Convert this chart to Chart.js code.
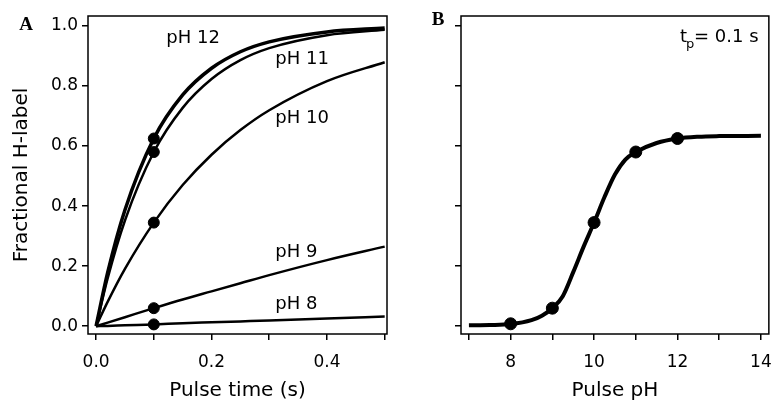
<!DOCTYPE html>
<html>
<head>
    <title>Fractional H-label</title>
    <script src="https://cdn.jsdelivr.net/npm/chart.js"></script>
    <style>
        body { margin: 0; background: #fff; overflow: hidden; }
        .wrap { position: relative; width: 771px; height: 403px; overflow: hidden; }
        #chartA { position: absolute; left: 0; top: 0; }
        #chartB { position: absolute; left: 400px; top: 0; }
    </style>
</head>
<body>
    <div class="wrap">
        <canvas id="chartA" width="400" height="403"></canvas>
        <canvas id="chartB" width="384" height="403"></canvas>
    </div>

    <script>
        // panel A: labelling vs pulse time
        const pulseTime = [0, 0.02, 0.05, 0.1, 0.15, 0.2, 0.25, 0.3, 0.4, 0.5];
        const ph12 = [0, 0.178, 0.387, 0.625, 0.77, 0.859, 0.914, 0.947, 0.98, 0.993];
        const ph11 = [0, 0.159, 0.352, 0.58, 0.727, 0.823, 0.886, 0.926, 0.969, 0.987];
        const ph10 = [0, 0.081, 0.191, 0.345, 0.47, 0.571, 0.653, 0.719, 0.816, 0.879];
        const ph9 = [0, 0.012, 0.03, 0.06, 0.089, 0.116, 0.143, 0.17, 0.22, 0.265];
        const ph8 = [0, 0.001, 0.003, 0.006, 0.01, 0.013, 0.016, 0.019, 0.026, 0.032];
        const dotTime = [0.1, 0.1, 0.1, 0.1, 0.1];
        const dotLabel = [0.625, 0.58, 0.345, 0.06, 0.006];
        const curveNames = ['pH 12', 'pH 11', 'pH 10', 'pH 9', 'pH 8'];
        const nameX = [0.168, 0.357, 0.357, 0.347, 0.347];
        const nameY = [0.957, 0.89, 0.692, 0.245, 0.073];
        const xTicksA = [0, 0.1, 0.2, 0.3, 0.4, 0.5];
        const yTicks = [0, 0.2, 0.4, 0.6, 0.8, 1.0];

        // panel B: labelling vs pulse pH at tp = 0.1 s
        const pulsePH = [7, 7.5, 8, 8.5, 8.75, 9, 9.25, 9.5, 9.75, 10, 10.25, 10.5, 10.75, 11, 11.5, 12, 12.5, 13, 14];
        const labelB = [0.003, 0.004, 0.007, 0.02, 0.035, 0.06, 0.1, 0.18, 0.265, 0.345, 0.43, 0.505, 0.555, 0.58, 0.61, 0.625, 0.631, 0.633, 0.634];
        const dotPH = [8, 9, 10, 11, 12];
        const dotB = [0.008, 0.06, 0.345, 0.58, 0.625];
        const xTicksB = [7, 8, 9, 10, 11, 12, 13, 14];

        const FONT = "'DejaVu Sans', Verdana, sans-serif";

        function pts(xs, ys) { return xs.map((x, i) => ({ x: x, y: ys[i] })); }

        function curve(data, w) {
            return { type: 'line', data: data, borderColor: '#000', borderWidth: w, pointRadius: 0,
                     fill: false, cubicInterpolationMode: 'monotone' };
        }

        const boxPlugin = {
            id: 'box',
            afterDraw(chart, args, opts) {
                const ctx = chart.ctx, a = chart.chartArea;
                ctx.save();
                ctx.strokeStyle = '#000';
                ctx.lineWidth = 1.5;
                ctx.strokeRect(a.left, a.top, a.right - a.left, a.bottom - a.top);
                ctx.fillStyle = '#000';
                // panel letter
                ctx.font = "bold 19px 'Liberation Serif', 'Times New Roman', serif";
                ctx.textBaseline = 'middle';
                ctx.textAlign = 'center';
                ctx.fillText(opts.letter, opts.letterX, opts.letterY);
                ctx.font = '18px ' + FONT;
                if (opts.names) {
                    const xs = chart.scales.x, ys = chart.scales.y;
                    opts.names.forEach((n, i) => {
                        ctx.fillText(n, xs.getPixelForValue(nameX[i]), ys.getPixelForValue(nameY[i]));
                    });
                }
                if (opts.tp) {
                    ctx.textAlign = 'left';
                    ctx.fillText('t', 280, 37);
                    ctx.font = '13px ' + FONT;
                    ctx.fillText('p', 286, 45);
                    ctx.font = '18px ' + FONT;
                    ctx.fillText('= 0.1 s', 294, 37);
                }
                ctx.restore();
            }
        };

        function axes(xMin, xMax, xTicks, xLabel, xFmt, yWidth, showY) {
            return {
                x: {
                    type: 'linear', min: xMin, max: xMax,
                    afterBuildTicks: s => { s.ticks = xTicks.map(v => ({ value: v })); },
                    afterFit: s => { s.height = 69; },
                    border: { display: false },
                    grid: { drawOnChartArea: false, drawTicks: true, tickLength: 6, color: '#000', lineWidth: 1.5 },
                    ticks: { color: '#000', font: { family: FONT, size: 17 }, padding: 12, maxRotation: 0,
                             autoSkip: false, callback: xFmt },
                    title: { display: true, text: xLabel, color: '#000', font: { family: FONT, size: 20 },
                             padding: { top: 0, bottom: 0 } }
                },
                y: {
                    type: 'linear', min: -0.026, max: 1.033,
                    afterBuildTicks: s => { s.ticks = yTicks.map(v => ({ value: v })); },
                    afterFit: s => { s.width = yWidth; },
                    border: { display: false },
                    grid: { drawOnChartArea: false, drawTicks: true, tickLength: 6, color: '#000', lineWidth: 1.5 },
                    ticks: { color: '#000', font: { family: FONT, size: 17 }, padding: 4,
                             callback: v => showY ? v.toFixed(1) : '' },
                    title: { display: showY, text: 'Fractional H-label', color: '#000',
                             font: { family: FONT, size: 20 }, padding: { top: 10, bottom: 0 } }
                }
            };
        }

        new Chart(document.getElementById('chartA').getContext('2d'), {
            type: 'scatter',
            data: {
                datasets: [
                    curve(pts(pulseTime, ph12), 3.5),
                    curve(pts(pulseTime, ph11), 2.5),
                    curve(pts(pulseTime, ph10), 2.5),
                    curve(pts(pulseTime, ph9), 2.5),
                    curve(pts(pulseTime, ph8), 2.5),
                    { data: pts(dotTime, dotLabel), pointRadius: 5.5, pointBackgroundColor: '#000',
                      pointBorderColor: '#000', showLine: false }
                ]
            },
            options: {
                responsive: false, animation: false,
                layout: { padding: { top: 16, right: 13, left: 0, bottom: 0 } },
                plugins: { legend: { display: false }, tooltip: { enabled: false },
                           box: { letter: 'A', letterX: 26, letterY: 25, names: curveNames } },
                scales: axes(-0.014, 0.504, xTicksA, 'Pulse time (s)',
                             v => (Math.round(v * 10) % 2 === 0 ? v.toFixed(1) : ''), 88, true)
            },
            plugins: [boxPlugin]
        });

        new Chart(document.getElementById('chartB').getContext('2d'), {
            type: 'scatter',
            data: {
                datasets: [
                    curve(pts(pulsePH, labelB), 4),
                    { data: pts(dotPH, dotB), pointRadius: 6, pointBackgroundColor: '#000',
                      pointBorderColor: '#000', showLine: false }
                ]
            },
            options: {
                responsive: false, animation: false,
                layout: { padding: { top: 16, right: 10, left: 0, bottom: 0 } },
                plugins: { legend: { display: false }, tooltip: { enabled: false },
                           box: { letter: 'B', letterX: 38, letterY: 20, tp: true } },
                scales: axes(6.81, 14.19, xTicksB, 'Pulse pH',
                             v => (v % 2 === 0 ? String(v) : ''), 61, false)
            },
            plugins: [boxPlugin]
        });
    </script>
</body>
</html>
